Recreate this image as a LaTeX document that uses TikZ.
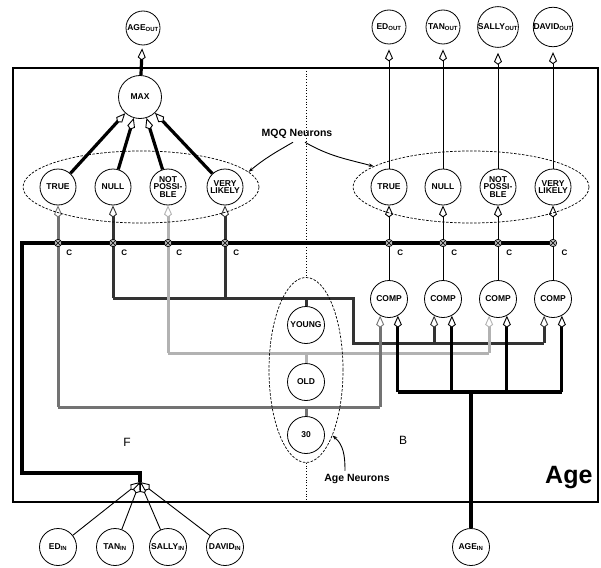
\documentclass[tikz,border=0pt]{standalone}
\usepackage{fontspec}
\setmainfont{Liberation Sans}
\usetikzlibrary{shapes, backgrounds, positioning, arrows.meta, calc}

\begin{document}
\begin{tikzpicture}[x=1pt, y=-1pt,
		>={Kite[length=12pt, width=8pt, inset=3pt, fill=white, line width=0.9pt]},
		neuron/.style={draw, circle, line width=0.8pt, minimum size=36pt, inner sep=0pt, align=center, font=\fontsize{8.5}{7.5}\selectfont\bfseries},
		junc/.style={draw, circle, fill=gray!55, line width=0.6pt, inner sep=0pt, minimum size=7.5pt,
			label={[font=\fontsize{8}{8}\selectfont\bfseries, label distance=2pt]-35:C},
			path picture={\draw[line width=0.5pt] (path picture bounding box.north west) -- (path picture bounding box.south east)
				(path picture bounding box.north east) -- (path picture bounding box.south west);}},
		group/.style={draw, ellipse, dash pattern=on 2.5pt off 1.5pt, line width=0.7pt, inner sep=0pt},
		wire/.style={line width=0.9pt},
		heavy/.style={line width=3.2pt},
		wyoung/.style={line width=3pt, black!80},
		wold/.style={line width=3pt, black!30},
		wthirty/.style={line width=3pt, black!55}]
		
		\useasboundingbox (0,0) rectangle (601,567);
		
		% Frame
		\draw[line width=1.4pt] (13,68) rectangle (598,502);
		
		% Output neurons
		\node[neuron, minimum size=34pt] (ageout) at (143,28) {AGE\textsubscript{OUT}};
		\node[neuron, minimum size=34pt] (edout) at (389,27) {ED\textsubscript{OUT}};
		\node[neuron, minimum size=34pt] (tanout) at (443,27) {TAN\textsubscript{OUT}};
		\node[neuron, minimum size=34pt] (sallyout) at (498,27) {SALLY\textsubscript{OUT}};
		\node[neuron, minimum size=34pt] (davidout) at (553,27) {DAVID\textsubscript{OUT}};
		
		\node[neuron, minimum size=43pt] (max) at (140,97) {MAX};
		
		% MQQ neurons
		\node[group, minimum width=236pt, minimum height=72pt] (ellL) at (141,187) {};
		\node[group, minimum width=236pt, minimum height=72pt] (ellR) at (471,187) {};
		\node[font=\fontsize{10.5}{10.5}\selectfont\bfseries] (mqq) at (297,134) {MQQ Neurons};
		
		\node[neuron] (lT) at (58,187) {TRUE};
		\node[neuron] (lN) at (113,187) {NULL};
		\node[neuron] (lP) at (168,187) {NOT\\POSSI-\\BLE};
		\node[neuron] (lV) at (225,187) {VERY\\LIKELY};
		
		\node[neuron] (rT) at (389,187) {TRUE};
		\node[neuron] (rN) at (443,187) {NULL};
		\node[neuron] (rP) at (498,187) {NOT\\POSSI-\\BLE};
		\node[neuron] (rV) at (553,187) {VERY\\LIKELY};
		
		\draw[wire, -{Stealth[length=5pt, width=3.5pt]}] ([xshift=-4pt]mqq.south) to[out=-150, in=40] (ellL.8);
		\draw[wire, -{Stealth[length=5pt, width=3.5pt]}] ([xshift=8pt]mqq.south) to[out=-30, in=165] (ellR.168);
		
		% C junctions on the bus
		\node[junc] (jl1) at (lT |- 0,243) {};
		\node[junc] (jl2) at (lN |- 0,243) {};
		\node[junc] (jl3) at (lP |- 0,243) {};
		\node[junc] (jl4) at (lV |- 0,243) {};
		\node[junc] (jr1) at (rT |- 0,243) {};
		\node[junc] (jr2) at (rN |- 0,243) {};
		\node[junc] (jr3) at (rP |- 0,243) {};
		\node[junc] (jr4) at (rV |- 0,243) {};
		
		% Comparators
		\node[neuron, minimum size=37pt] (comp1) at (389,299) {COMP};
		\node[neuron, minimum size=37pt] (comp2) at (443,299) {COMP};
		\node[neuron, minimum size=37pt] (comp3) at (498,299) {COMP};
		\node[neuron, minimum size=37pt] (comp4) at (553,299) {COMP};
		
		% Age neurons
		\node[group, minimum width=74pt, minimum height=185pt] (ellA) at (306,370) {};
		\node[neuron, minimum size=37pt] (young) at (306,325) {YOUNG};
		\node[neuron, minimum size=37pt] (old) at (306,382) {OLD};
		\node[neuron, minimum size=37pt] (thirty) at (306,435) {30};
		\node[font=\fontsize{10.5}{10.5}\selectfont\bfseries] (agelbl) at (357,479) {Age Neurons};
		\draw[wire, -{Stealth[length=5pt, width=3.5pt]}] ([xshift=-12pt]agelbl.north) to[out=90, in=-40] (ellA.-68);
		
		\node[font=\fontsize{12}{12}\selectfont] (fside) at (127,442) {F};
		\node[font=\fontsize{12}{12}\selectfont] (bside) at (403,440) {B};
		\node[font=\fontsize{25}{25}\selectfont\bfseries, anchor=base east] (agebox) at (596,483) {Age};
		
		% Input neurons
		\node[neuron, minimum size=37pt] (edin) at (58,547) {ED\textsubscript{IN}};
		\node[neuron, minimum size=37pt] (tanin) at (115,547) {TAN\textsubscript{IN}};
		\node[neuron, minimum size=37pt] (sallyin) at (168,547) {SALLY\textsubscript{IN}};
		\node[neuron, minimum size=37pt] (davidin) at (225,547) {DAVID\textsubscript{IN}};
		\node[neuron, minimum size=37pt] (agein) at (471,547) {AGE\textsubscript{IN}};
		
		\coordinate (busL) at (22,243);
		\coordinate (busB) at (22,473);
		\coordinate (merge) at (140,482);
		
		\begin{scope}[on background layer]
			% divider
			\draw[dotted, line width=0.8pt] (306,68) -- (ellA.north);
			\draw[dotted, line width=0.8pt] (ellA.south) -- (306,502);
			
			% Bus and name inputs
			\draw[heavy] (jr4.center) -- (busL) -- (busB) -| (merge);
			\draw[wire, ->] (edin) -- (merge);
			\draw[wire, ->] (tanin) -- (merge);
			\draw[wire, ->] (sallyin) -- (merge);
			\draw[wire, ->] (davidin) -- (merge);
			
			% Left side into MAX
			\draw[heavy, ->] (lT) -- (max);
			\draw[heavy, ->] (lN) -- (max);
			\draw[heavy, ->] (lP) -- (max);
			\draw[heavy, ->] (lV) -- (max);
			\draw[heavy, ->, shorten >=3pt] (max) -- (ageout);
			
			% Right side to outputs
			\draw[wire, ->] (comp1) -- (rT);
			\draw[wire, ->] (comp2) -- (rN);
			\draw[wire, ->] (comp3) -- (rP);
			\draw[wire, ->] (comp4) -- (rV);
			\draw[wire, ->, shorten >=5pt] (rT) -- (edout);
			\draw[wire, ->, shorten >=5pt] (rN) -- (tanout);
			\draw[wire, ->, shorten >=5pt] (rP) -- (sallyout);
			\draw[wire, ->, shorten >=5pt] (rV) -- (davidout);
			
			% YOUNG
			\coordinate (hY) at (lN |- 0,298);
			\coordinate (yTurn) at (353,298);
			\coordinate (yLow) at (353,343);
			\draw[wyoung] (young.north) -- (young.north |- hY);
			\draw[wyoung] (hY) -- (yTurn) -- (yLow) -- (comp4.-118 |- yLow);
			\draw[wyoung, ->] (hY) -- (lN);
			\draw[wyoung, ->] (lV |- hY) -- (lV);
			\draw[wyoung, ->] (comp2.-118 |- yLow) -- (comp2.-118);
			\draw[wyoung, ->] (comp4.-118 |- yLow) -- (comp4.-118);
			
			% OLD
			\coordinate (hOld) at (lP |- 0,353);
			\coordinate (kOld) at (comp3.-118 |- 0,353);
			\draw[wold] (old.north) -- (old.north |- hOld);
			\draw[wold] (hOld) -- (kOld);
			\draw[wold, ->] (hOld) -- (lP);
			\draw[wold, ->] (kOld) -- (comp3.-118);
			
			% 30
			\coordinate (hThirty) at (lT |- 0,407);
			\coordinate (kThirty) at (comp1.-118 |- 0,407);
			\draw[wthirty] (thirty.north) -- (thirty.north |- hThirty);
			\draw[wthirty] (hThirty) -- (kThirty);
			\draw[wthirty, ->] (hThirty) -- (lT);
			\draw[wthirty, ->] (kThirty) -- (comp1.-118);
			
			% AGE in
			\coordinate (aJ) at (agein.north |- 0,392);
			\draw[heavy] (agein) -- (aJ);
			\draw[heavy] (comp1.-62 |- aJ) -- (comp4.-62 |- aJ);
			\draw[heavy, ->] (comp1.-62 |- aJ) -- (comp1.-62);
			\draw[heavy, ->] (comp2.-62 |- aJ) -- (comp2.-62);
			\draw[heavy, ->] (comp3.-62 |- aJ) -- (comp3.-62);
			\draw[heavy, ->] (comp4.-62 |- aJ) -- (comp4.-62);
		\end{scope}
		
	\end{tikzpicture}
\end{document}
